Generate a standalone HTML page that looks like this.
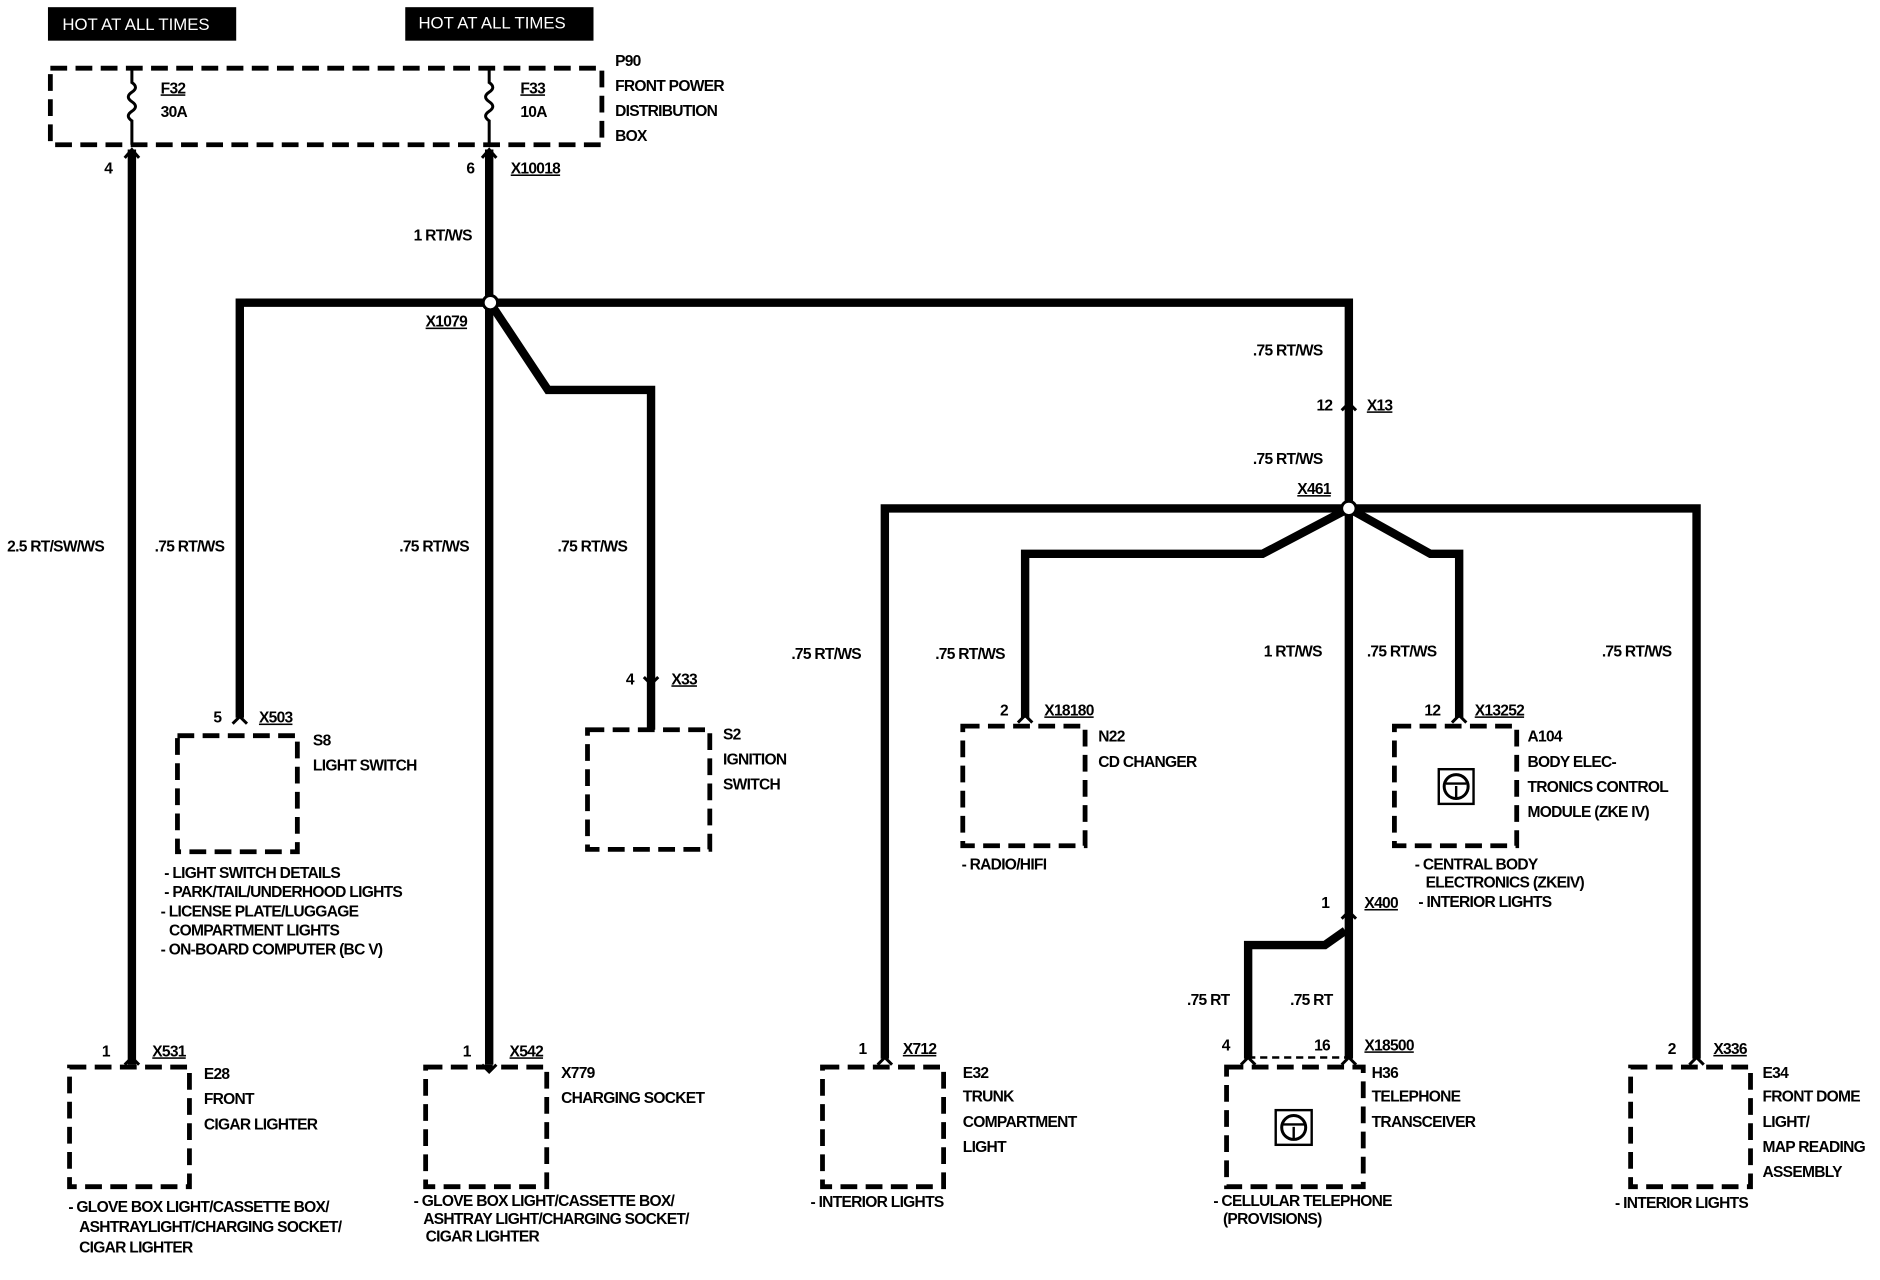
<!DOCTYPE html>
<html><head><meta charset="utf-8"><style>
html,body{margin:0;padding:0;background:#fff}
svg{display:block}
text{font-family:"Liberation Sans",sans-serif;font-weight:bold;font-size:13px;letter-spacing:-0.6px;fill:#000}
.w{stroke:#000;stroke-width:7;fill:none;stroke-linejoin:miter}
.d{stroke:#000;stroke-width:4;fill:none;stroke-dasharray:14,7}
.u{text-decoration:underline}
.a{stroke:#000;stroke-width:2.5;fill:none}
</style></head><body>
<svg width="1880" height="1280" viewBox="0 0 1568 1070" preserveAspectRatio="none" xmlns="http://www.w3.org/2000/svg">
<!-- HOT boxes -->
<rect x="40" y="6" width="157" height="28" fill="#000"/>
<text x="52" y="25" style="fill:#fff;font-weight:normal;font-size:14px;letter-spacing:0">HOT AT ALL TIMES</text>
<rect x="338" y="6" width="157" height="28" fill="#000"/>
<text x="349" y="24" style="fill:#fff;font-weight:normal;font-size:14px;letter-spacing:0">HOT AT ALL TIMES</text>
<!-- P90 -->
<rect class="d" x="42" y="57" width="460" height="64"/>
<path class="a" d="M110 57 v12 q6 4 0 8 q-6 4 0 8 q6 4 0 8 q-6 4 0 8 v20"/>
<path class="a" d="M408 57 v12 q6 4 0 8 q-6 4 0 8 q6 4 0 8 q-6 4 0 8 v20"/>
<text x="134" y="78" class="u">F32</text><text x="134" y="98">30A</text>
<text x="434" y="78" class="u">F33</text><text x="434" y="98">10A</text>
<text x="513" y="55">P90</text><text x="513" y="76">FRONT POWER</text><text x="513" y="97">DISTRIBUTION</text><text x="513" y="118">BOX</text>
<!-- main wires -->
<path class="w" d="M110 125 V890"/>
<path class="a" d="M104 132 l6 -7 l6 7"/>
<text x="87" y="145">4</text>
<path class="w" d="M408 125 V890"/>
<path class="a" d="M402 132 l6 -7 l6 7"/>
<text x="389" y="145">6</text><text x="426" y="145" class="u">X10018</text>
<text x="345" y="201">1 RT/WS</text>
<path class="w" d="M200 600 V253 H1125 V425"/>
<circle cx="409" cy="253" r="6" fill="#fff" stroke="#000" stroke-width="2.5"/>
<text x="355" y="273" class="u">X1079</text>
<path class="w" d="M412 258 L457 326 H543 V610"/>
<text x="6" y="461">2.5 RT/SW/WS</text>
<text x="129" y="461">.75 RT/WS</text>
<text x="333" y="461">.75 RT/WS</text>
<text x="465" y="461">.75 RT/WS</text>
<!-- X13 -->
<text x="1045" y="297">.75 RT/WS</text>
<path class="a" d="M1119 343 l6 -6 l6 6"/>
<text x="1098" y="343">12</text><text x="1140" y="343" class="u">X13</text>
<text x="1045" y="388">.75 RT/WS</text>
<text x="1082" y="413" class="u">X461</text>
<!-- X461 distribution -->
<path class="w" d="M738 885 V425 H1415 V885"/>
<path class="w" d="M1125 425 L1053 463 H855 V600"/>
<path class="w" d="M1125 425 L1193 463 H1217 V600"/>
<path class="w" d="M1125 425 V885"/>
<circle cx="1125" cy="425" r="6" fill="#fff" stroke="#000" stroke-width="2.5"/>
<path class="w" d="M1122 778 L1105 790 H1041 V885"/>
<text x="660" y="551">.75 RT/WS</text>
<text x="780" y="551">.75 RT/WS</text>
<text x="1054" y="549">1 RT/WS</text>
<text x="1140" y="549">.75 RT/WS</text>
<text x="1336" y="549">.75 RT/WS</text>
<!-- connectors arrows -->
<path class="a" d="M194 605 l6 -6 l6 6"/><text x="178" y="604">5</text><text x="216" y="604" class="u">X503</text>
<path class="a" d="M537 566 l6 6 l6 -6"/><text x="522" y="572">4</text><text x="560" y="572" class="u">X33</text>
<path class="a" d="M849 604 l6 -6 l6 6"/><text x="834" y="598">2</text><text x="871" y="598" class="u">X18180</text>
<path class="a" d="M1211 604 l6 -6 l6 6"/><text x="1188" y="598">12</text><text x="1230" y="598" class="u">X13252</text>
<path class="a" d="M1119 768 l6 -6 l6 6"/><text x="1102" y="759">1</text><text x="1138" y="759" class="u">X400</text>
<text x="990" y="840">.75 RT</text><text x="1076" y="840">.75 RT</text>
<path class="a" d="M104 890 l6 -6 l6 6"/><text x="85" y="883">1</text><text x="127" y="883" class="u">X531</text>
<path class="a" d="M402 890 l6 6 l6 -6"/><text x="386" y="883">1</text><text x="425" y="883" class="u">X542</text>
<path class="a" d="M732 890 l6 -6 l6 6"/><text x="716" y="881">1</text><text x="753" y="881" class="u">X712</text>
<path class="a" d="M1035 890 l6 -6 l6 6"/><text x="1019" y="878">4</text>
<path class="a" d="M1119 890 l6 -6 l6 6"/><text x="1096" y="878">16</text><text x="1138" y="878" class="u">X18500</text>
<path class="a" d="M1409 890 l6 -6 l6 6"/><text x="1391" y="881">2</text><text x="1429" y="881" class="u">X336</text>
<!-- boxes -->
<rect class="d" x="148" y="615" width="100" height="97"/>
<text x="261" y="623">S8</text><text x="261" y="644">LIGHT SWITCH</text>
<text x="137" y="734">- LIGHT SWITCH DETAILS</text>
<text x="137" y="750">- PARK/TAIL/UNDERHOOD LIGHTS</text>
<text x="134" y="766">- LICENSE PLATE/LUGGAGE</text>
<text x="141" y="782">COMPARTMENT LIGHTS</text>
<text x="134" y="798">- ON-BOARD COMPUTER (BC V)</text>
<rect class="d" x="490" y="610" width="102" height="100"/>
<text x="603" y="618">S2</text><text x="603" y="639">IGNITION</text><text x="603" y="660">SWITCH</text>
<rect class="d" x="803" y="607" width="102" height="100"/>
<text x="916" y="620">N22</text><text x="916" y="641">CD CHANGER</text>
<text x="802" y="727">- RADIO/HIFI</text>
<rect class="d" x="1163" y="607" width="102" height="100"/>
<rect x="1200" y="643" width="29" height="29" fill="none" stroke="#000" stroke-width="2"/>
<circle cx="1214.5" cy="657.5" r="10" fill="none" stroke="#000" stroke-width="2.5"/>
<path d="M1206 655 h17 M1214.5 657 v10" stroke="#000" stroke-width="2"/>
<text x="1274" y="620">A104</text><text x="1274" y="641">BODY ELEC-</text><text x="1274" y="662">TRONICS CONTROL</text><text x="1274" y="683">MODULE (ZKE IV)</text>
<text x="1180" y="727">- CENTRAL BODY</text><text x="1189" y="742">ELECTRONICS (ZKEIV)</text><text x="1183" y="758">- INTERIOR LIGHTS</text>
<rect class="d" x="58" y="892" width="100" height="100"/>
<text x="170" y="902">E28</text><text x="170" y="923">FRONT</text><text x="170" y="944">CIGAR LIGHTER</text>
<text x="57" y="1013">- GLOVE BOX LIGHT/CASSETTE BOX/</text><text x="66" y="1030">ASHTRAYLIGHT/CHARGING SOCKET/</text><text x="66" y="1047">CIGAR LIGHTER</text>
<rect class="d" x="355" y="892" width="101" height="100"/>
<text x="468" y="901">X779</text><text x="468" y="922">CHARGING SOCKET</text>
<text x="345" y="1008">- GLOVE BOX LIGHT/CASSETTE BOX/</text><text x="353" y="1023">ASHTRAY LIGHT/CHARGING SOCKET/</text><text x="355" y="1038">CIGAR LIGHTER</text>
<rect class="d" x="686" y="892" width="101" height="100"/>
<text x="803" y="901">E32</text><text x="803" y="921">TRUNK</text><text x="803" y="942">COMPARTMENT</text><text x="803" y="963">LIGHT</text>
<text x="676" y="1009">- INTERIOR LIGHTS</text>
<rect class="d" x="1023" y="892" width="114" height="100"/>
<path d="M1041 884 H1125" stroke="#000" stroke-width="2" stroke-dasharray="6,4"/>
<rect x="1064" y="928" width="30" height="29" fill="none" stroke="#000" stroke-width="2"/>
<circle cx="1079" cy="942.5" r="10" fill="none" stroke="#000" stroke-width="2.5"/>
<path d="M1070 940 h18 M1079 942 v10" stroke="#000" stroke-width="2"/>
<text x="1144" y="901">H36</text><text x="1144" y="921">TELEPHONE</text><text x="1144" y="942">TRANSCEIVER</text>
<text x="1012" y="1008">- CELLULAR TELEPHONE</text><text x="1020" y="1023">(PROVISIONS)</text>
<rect class="d" x="1360" y="892" width="100" height="100"/>
<text x="1470" y="901">E34</text><text x="1470" y="921">FRONT DOME</text><text x="1470" y="942">LIGHT/</text><text x="1470" y="963">MAP READING</text><text x="1470" y="984">ASSEMBLY</text>
<text x="1347" y="1010">- INTERIOR LIGHTS</text>
</svg>
</body></html>
